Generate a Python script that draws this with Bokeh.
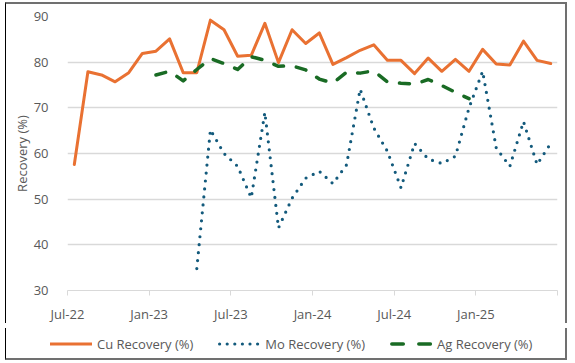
import numpy as np
from bokeh.plotting import figure
from bokeh.layouts import column
from bokeh.models import FixedTicker, Range1d, Div
from bokeh.embed import file_html
from bokeh.resources import INLINE

# Months from Jul-22 to Jun-25
months = ["Jul-22", "Aug-22", "Sep-22", "Oct-22", "Nov-22", "Dec-22",
          "Jan-23", "Feb-23", "Mar-23", "Apr-23", "May-23", "Jun-23",
          "Jul-23", "Aug-23", "Sep-23", "Oct-23", "Nov-23", "Dec-23",
          "Jan-24", "Feb-24", "Mar-24", "Apr-24", "May-24", "Jun-24",
          "Jul-24", "Aug-24", "Sep-24", "Oct-24", "Nov-24", "Dec-24",
          "Jan-25", "Feb-25", "Mar-25", "Apr-25", "May-25", "Jun-25"]

cu_recovery = [57.6, 77.9, 77.2, 75.7, 77.7, 81.9, 82.4, 85.1, 77.7, 77.7,
               89.2, 87.1, 81.3, 81.5, 88.5, 79.9, 87.1, 84.1, 86.4, 79.5,
               81.0, 82.6, 83.8, 80.4, 80.4, 77.5, 80.9, 78.0, 80.6, 78.0,
               82.8, 79.6, 79.4, 84.6, 80.4, 79.7]

mo_recovery = [None] * 9 + [34.8, 65.2, 60.0, 57.2, 50.3, 69.0, 43.7, 50.2,
               54.6, 56.1, 53.4, 57.5, 74.1, 65.6, 60.5, 52.5, 62.2, 58.8,
               57.8, 59.4, 70.0, 78.0, 61.2, 57.2, 67.0, 57.6, 62.2]

ag_recovery = [None] * 6 + [77.2, 78.0, 75.9, 78.4, 80.8, 79.7, 78.4, 81.2,
               80.4, 79.1, 79.2, 78.3, 76.3, 75.4, 77.8, 77.6, 78.1, 75.7,
               75.4, 75.2, 76.2, 74.9, 73.4, 72.0] + [None] * 6

series_labels = ["Cu Recovery (%)", "Mo Recovery (%)", "Ag Recovery (%)"]
tick_months = ["Jul-22", "Jan-23", "Jul-23", "Jan-24", "Jul-24", "Jan-25"]
y_ticks = [30, 40, 50, 60, 70, 80, 90]


def arr(v):
    return np.array([np.nan if a is None else a for a in v], dtype=float)


x = np.arange(len(months)) + 0.5

FONT = "Open Sans"
GRAY = "#595959"
FRAME_GRAY = "#707070"
COLORS = ["#E97132", "#135A7C", "#196B24"]
WIDTHS = [3, 3.2, 3.5]

p = figure(width=562, height=321, output_backend="svg",
           toolbar_location=None, x_range=Range1d(0, 36), y_range=Range1d(30, 90),
           min_border_left=61, min_border_right=11, min_border_top=12,
           min_border_bottom=33, background_fill_color="white",
           border_fill_color="white",
           styles={"margin-left": "5px", "margin-top": "2px",
                   "border-left": "1px solid #000000",
                   "border-top": "2px solid " + FRAME_GRAY,
                   "border-right": "2px solid " + FRAME_GRAY})
p.outline_line_color = None

p.line(x, arr(cu_recovery), line_color=COLORS[0], line_width=WIDTHS[0],
       line_join="round", line_cap="round")
p.line(x, arr(mo_recovery), line_color=COLORS[1], line_width=WIDTHS[1],
       line_dash="0 8", line_cap="round", line_join="round")
p.line(x, arr(ag_recovery), line_color=COLORS[2], line_width=WIDTHS[2],
       line_dash="10 13", line_cap="round", line_join="round")

tick_pos = [months.index(m) for m in tick_months] + [36]
p.xaxis.ticker = FixedTicker(ticks=tick_pos)
p.xaxis.major_label_overrides = {months.index(m): m for m in tick_months}
p.xaxis.major_label_overrides[36] = ""
p.xaxis.axis_line_color = "#d9d9d9"
p.xaxis.major_tick_line_color = "#d9d9d9"
p.xaxis.major_tick_out = 5
p.xaxis.major_tick_in = 0
p.xaxis.minor_tick_line_color = None
p.xaxis.major_label_standoff = 9
p.xaxis.major_label_text_font = FONT
p.xaxis.major_label_text_font_size = "13px"
p.xaxis.major_label_text_color = GRAY

p.yaxis.ticker = FixedTicker(ticks=y_ticks)
p.yaxis.axis_line_color = None
p.yaxis.major_tick_line_color = None
p.yaxis.minor_tick_line_color = None
p.yaxis.major_label_standoff = 13
p.yaxis.major_label_text_font = FONT
p.yaxis.major_label_text_font_size = "13px"
p.yaxis.major_label_text_color = GRAY
p.yaxis.axis_label = "Recovery (%)"
p.yaxis.axis_label_text_font = FONT
p.yaxis.axis_label_text_font_size = "13px"
p.yaxis.axis_label_text_font_style = "normal"
p.yaxis.axis_label_text_color = GRAY
p.yaxis.axis_label_standoff = 0

p.xgrid.grid_line_color = None
p.ygrid.grid_line_color = "#d9d9d9"
p.ygrid.grid_line_width = 1.3

# Legend strip below the chart (line samples + labels)
samples = [
    '<line x1="0" y1="7" x2="42" y2="7" stroke="%s" stroke-width="%s"/>' % (COLORS[0], WIDTHS[0]),
    '<line x1="1.6" y1="7" x2="42" y2="7" stroke="%s" stroke-width="%s" '
    'stroke-linecap="round" stroke-dasharray="0 7.6"/>' % (COLORS[1], WIDTHS[1]),
    '<line x1="1.8" y1="7" x2="42" y2="7" stroke="%s" stroke-width="%s" '
    'stroke-linecap="round" stroke-dasharray="11.5 15.5"/>' % (COLORS[2], WIDTHS[2]),
]
items = []
for i, (lab, svg) in enumerate(zip(series_labels, samples)):
    mr = "0" if i == len(series_labels) - 1 else "25px"
    items.append('<svg width="42" height="14" style="display:block;flex:none">%s</svg>'
                 '<span style="margin-left:5px;margin-right:%s">%s</span>' % (svg, mr, lab))
legend_html = ('<div style="display:flex;align-items:center;height:28px;'
               'padding-top:4px;padding-left:44px;font-family:\'Open Sans\';'
               'font-size:13px;color:%s;white-space:nowrap;">%s</div>'
               % (GRAY, "".join(items)))

lg = Div(text=legend_html, width=562, height=32,
         styles={"margin-left": "5px", "background": "white",
                 "border-left": "1px solid #000000",
                 "border-bottom": "2px solid " + FRAME_GRAY,
                 "border-right": "2px solid " + FRAME_GRAY})

layout = column(p, lg, spacing=0)
open("out.html", "w").write(file_html(layout, INLINE))
